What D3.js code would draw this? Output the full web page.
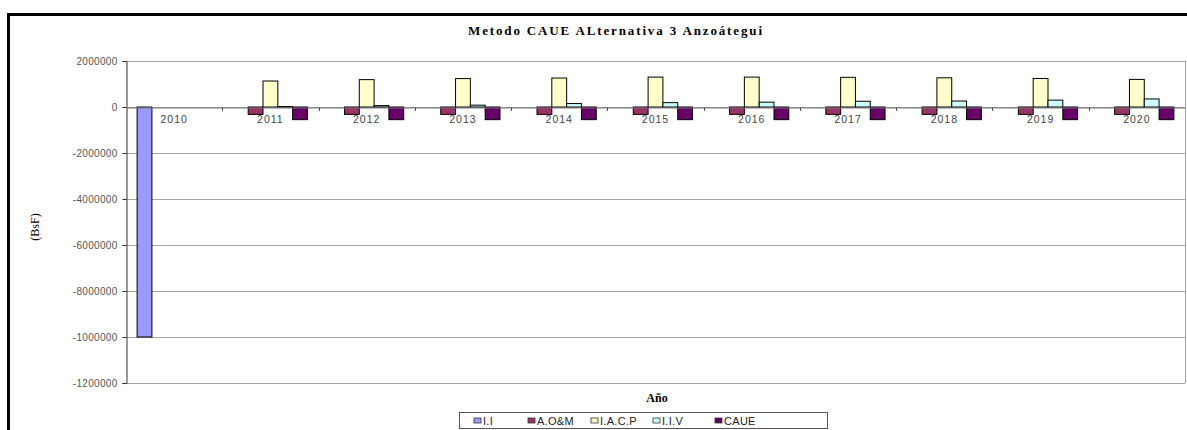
<!DOCTYPE html>
<html>
<head>
<meta charset="utf-8">
<script src="https://cdn.jsdelivr.net/npm/d3@7"></script>
<style>
  body { margin: 0; background: #fff; }
  text { font-family: Arial, "Liberation Sans", sans-serif; }
</style>
</head>
<body>
<div id="chart-container"></div>
<script>
// Categories (years)
const years = ["2010", "2011", "2012", "2013", "2014", "2015", "2016", "2017", "2018", "2019", "2020"];

// Series values (BsF)
const seriesNames = ["I.I", "A.O&M", "I.A.C.P", "I.I.V", "CAUE"];
const valII   = [-10000000, 0, 0, 0, 0, 0, 0, 0, 0, 0, 0];
const valAOM  = [0, -320000, -320000, -320000, -320000, -320000, -320000, -320000, -320000, -320000, -320000];
const valIACP = [0, 1130000, 1190000, 1235000, 1260000, 1300000, 1300000, 1290000, 1270000, 1240000, 1200000];
const valIIV  = [0, 20000, 60000, 80000, 150000, 190000, 210000, 250000, 260000, 300000, 350000];
const valCAUE = [0, -550000, -550000, -550000, -550000, -550000, -550000, -550000, -550000, -550000, -550000];

// Y tick values and their labels as printed
const yTicks = [2000000, 0, -2000000, -4000000, -6000000, -8000000, -10000000, -12000000];
const yTickLabels = ["2000000", "0", "-2000000", "-4000000", "-6000000", "-8000000", "-1000000", "-1200000"];

const colors = ["#9999FF", "#993366", "#FFFFCC", "#CCFFFF", "#660066"];

const W = 1187, H = 430;
const plot = { left: 126, right: 1185, top: 61, bottom: 383 };

const svg = d3.select("#chart-container")
  .append("svg")
  .attr("width", W)
  .attr("height", H);

// outer chart frame (runs off the right and bottom edges)
svg.append("path")
  .attr("d", `M8.5,${H + 5} L8.5,14.5 L${W + 5},14.5`)
  .attr("fill", "none")
  .attr("stroke", "#000")
  .attr("stroke-width", 3);

const x0 = d3.scaleBand()
  .domain(years)
  .range([plot.left, plot.right]);

const yScale = d3.scaleLinear()
  .domain([-12000000, 2000000])
  .range([plot.bottom, plot.top]);

// gridlines
svg.append("g")
  .selectAll("line")
  .data(yTicks)
  .join("line")
  .attr("x1", plot.left)
  .attr("x2", plot.right)
  .attr("y1", d => Math.round(yScale(d)) + 0.5)
  .attr("y2", d => Math.round(yScale(d)) + 0.5)
  .attr("stroke", "#a6a6a6")
  .attr("stroke-width", 1);

// plot area right edge
svg.append("line")
  .attr("x1", plot.right + 0.5).attr("x2", plot.right + 0.5)
  .attr("y1", plot.top).attr("y2", plot.bottom)
  .attr("stroke", "#a6a6a6");

// y axis
const yAxis = d3.axisLeft(yScale)
  .tickValues(yTicks)
  .tickSize(4)
  .tickFormat((d, i) => yTickLabels[i]);

const yg = svg.append("g")
  .attr("transform", `translate(${plot.left + 0.5},0)`)
  .call(yAxis);
yg.select(".domain").attr("stroke", "#333");
yg.selectAll(".tick line").attr("stroke", "#333");
yg.selectAll(".tick text")
  .attr("font-family", "Arial, 'Liberation Sans', sans-serif")
  .attr("font-size", "10px")
  .attr("letter-spacing", "0.3px")
  .attr("fill", "#555")
  .attr("x", -9);

// bars: 5 bars per category, gap width 150%
const seriesVals = [valII, valAOM, valIACP, valIIV, valCAUE];
const barW = x0.bandwidth() / 6.5;
const barData = [];
years.forEach((yr, i) => {
  seriesNames.forEach((s, j) => {
    barData.push({ year: yr, series: j, value: seriesVals[j][i] });
  });
});

svg.append("g")
  .selectAll("rect")
  .data(barData.filter(d => d.value !== 0))
  .join("rect")
  .attr("x", d => x0(d.year) + barW * 0.75 + d.series * barW)
  .attr("y", d => yScale(Math.max(0, d.value)))
  .attr("width", barW)
  .attr("height", d => Math.abs(yScale(d.value) - yScale(0)))
  .attr("fill", d => colors[d.series])
  .attr("stroke", "#000")
  .attr("stroke-width", 1);

// category axis at zero
const xAxis = d3.axisBottom(x0).tickSize(0).tickPadding(8.5);
const xg = svg.append("g")
  .attr("transform", `translate(0,${Math.round(yScale(0)) + 0.5})`)
  .call(xAxis);
xg.select(".domain").attr("stroke", "#777");
xg.selectAll(".tick text")
  .attr("font-family", "Arial, 'Liberation Sans', sans-serif")
  .attr("font-size", "10.5px")
  .attr("letter-spacing", "1px")
  .attr("fill", "#444");

// category boundary tick marks
svg.append("g")
  .selectAll("line")
  .data(years.slice(1))
  .join("line")
  .attr("x1", d => Math.round(x0(d)) + 0.5)
  .attr("x2", d => Math.round(x0(d)) + 0.5)
  .attr("y1", Math.round(yScale(0)))
  .attr("y2", Math.round(yScale(0)) + 4)
  .attr("stroke", "#555");

// title
svg.append("text")
  .attr("x", 615)
  .attr("y", 35)
  .attr("text-anchor", "middle")
  .attr("textLength", 294)
  .attr("lengthAdjust", "spacing")
  .style("font-family", "'Liberation Serif', 'Times New Roman', serif")
  .style("font-weight", "bold")
  .style("font-size", "13px")
  .text("Metodo CAUE ALternativa 3 Anzoátegui");

// y axis title
svg.append("text")
  .attr("transform", "translate(39,227) rotate(-90)")
  .attr("text-anchor", "middle")
  .style("font-family", "'Liberation Serif', 'Times New Roman', serif")
  .style("font-size", "12px")
  .text("(BsF)");

// x axis title
svg.append("text")
  .attr("x", 657)
  .attr("y", 402)
  .attr("text-anchor", "middle")
  .style("font-family", "'Liberation Serif', 'Times New Roman', serif")
  .style("font-weight", "bold")
  .style("font-size", "12px")
  .text("Año");

// legend
const legend = svg.append("g");
legend.append("rect")
  .attr("x", 459.5).attr("y", 412.5)
  .attr("width", 368).attr("height", 16)
  .attr("fill", "#fff")
  .attr("stroke", "#555");

const legendX = [474, 528, 591, 653, 715];
const items = legend.selectAll("g.item")
  .data(seriesNames)
  .join("g")
  .attr("class", "item")
  .attr("transform", (d, i) => `translate(${legendX[i]},420.5)`);

items.append("rect")
  .attr("x", 0).attr("y", -2.5)
  .attr("width", 7).attr("height", 5)
  .attr("fill", (d, i) => colors[i])
  .attr("stroke", "#333")
  .attr("stroke-width", 0.8);

items.append("text")
  .attr("x", 9)
  .attr("y", 4)
  .style("font-family", "Arial, 'Liberation Sans', sans-serif")
  .style("font-size", "11px")
  .attr("letter-spacing", "0.3px")
  .attr("fill", "#222")
  .text(d => d);
</script>
</body>
</html>
